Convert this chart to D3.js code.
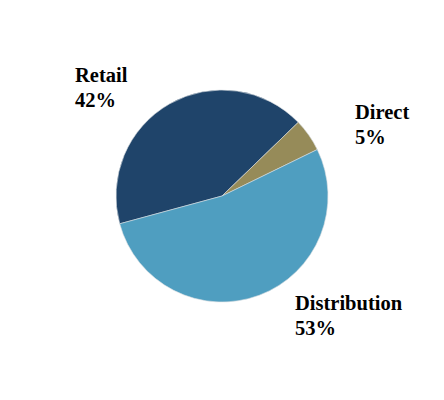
<!DOCTYPE html>
<html>
<head>
<meta charset="UTF-8">
<script src="https://cdn.jsdelivr.net/npm/d3@7/dist/d3.min.js"></script>
<style>
  body { margin:0; background:#fff; }
  svg { display:block; }
  .lbl { font-family:"Liberation Serif","Times New Roman",serif; font-weight:bold; font-size:20.5px; fill:#000; }
</style>
</head>
<body>
<svg width="444" height="400"></svg>
<script>
const categories = ['Retail', 'Direct', 'Distribution'];
const shares = [42, 5, 53];
const colors = ['#1f446a', '#968b59', '#4f9ec0'];

const w = 444, h = 400;
const cx = 222, cy = 196, r = 106;
const svg = d3.select('svg');

// Retail starts low on the left, going clockwise
const pie = d3.pie().sort(null)
  .startAngle(-105.2 * Math.PI / 180)
  .endAngle((360 - 105.2) * Math.PI / 180);
const arcs = pie(shares);
const arc = d3.arc().innerRadius(0).outerRadius(r);

const g = svg.append('g').attr('transform', `translate(${cx},${cy})`);
g.selectAll('path')
  .data(arcs)
  .enter()
  .append('path')
  .attr('d', arc)
  .attr('fill', (d, i) => colors[i])
  .attr('stroke', '#d8dde0')
  .attr('stroke-width', 0.6);

// label placement, relative to the pie center
const labelAt = {
  Retail:       [-147, -114],
  Direct:       [133, -77],
  Distribution: [73, 114]
};
categories.forEach((c, i) => {
  const [x, y] = labelAt[c];
  const t = svg.append('text').attr('class', 'lbl')
    .attr('x', cx + x).attr('y', cy + y);
  t.append('tspan').attr('x', cx + x).text(c);
  t.append('tspan').attr('x', cx + x).attr('dy', 25).text(shares[i] + '%');
});
</script>
</body>
</html>
